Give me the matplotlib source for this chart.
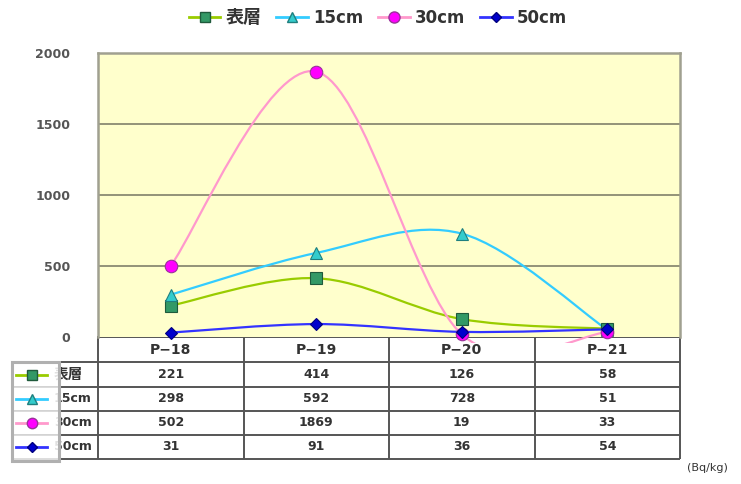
import numpy as np
import matplotlib
matplotlib.use('Agg')
import matplotlib.pyplot as plt
from matplotlib.path import Path
from matplotlib.patches import PathPatch, Rectangle
from matplotlib.lines import Line2D
from matplotlib.transforms import blended_transform_factory

plt.rcParams['font.family'] = ['DejaVu Sans', 'Noto Sans CJK JP']

# ---------------- data ----------------
categories = ['P−18', 'P−19', 'P−20', 'P−21']
series_names = ['表層', '15cm', '30cm', '50cm']
surface = [221, 414, 126, 58]
cm15 = [298, 592, 728, 51]
cm30 = [502, 1869, 19, 33]
cm50 = [31, 91, 36, 54]
y_ticks = [0, 500, 1000, 1500, 2000]
unit_label = '(Bq/kg)'

series = [surface, cm15, cm30, cm50]

styles = [
    dict(line='#99CC00', marker='s', mfc='#339966', mec='#1f5a3c', ms=8),
    dict(line='#33CCFF', marker='^', mfc='#33CCCC', mec='#1f7f7f', ms=8.5),
    dict(line='#FF99CC', marker='o', mfc='#FF00FF', mec='#993399', ms=9),
    dict(line='#3333FF', marker='D', mfc='#0000CC', mec='#000080', ms=6.5),
]


def smooth_path(x, y):
    pts = np.column_stack([x, y]).astype(float)
    n = len(pts)
    verts = [pts[0]]
    codes = [Path.MOVETO]
    for i in range(n - 1):
        p0 = pts[i - 1] if i > 0 else pts[i]
        p1 = pts[i]
        p2 = pts[i + 1]
        p3 = pts[i + 2] if i + 2 < n else pts[i + 1]
        c1 = p1 + (p2 - p0) / 6.0
        c2 = p2 - (p3 - p1) / 6.0
        verts += [c1, c2, p2]
        codes += [Path.CURVE4] * 3
    return Path(verts, codes)


def is_cjk(s):
    return any(ord(ch) > 0x2E80 for ch in s)


W, H = 741, 484
fig = plt.figure(figsize=(W / 100, H / 100), dpi=100)
fig.patch.set_facecolor('white')

# overlay axes in pixel coordinates (for table)
tab = fig.add_axes([0, 0, 1, 1], zorder=1)
tab.set_xlim(0, W)
tab.set_ylim(H, 0)
tab.axis('off')

ax_l, ax_r, ax_t, ax_b = 98, 680, 53, 337
ax = fig.add_axes([ax_l / W, (H - ax_b) / H, (ax_r - ax_l) / W, (ax_b - ax_t) / H], zorder=2)
ax.set_facecolor('#FFFFCC')
x = np.arange(len(categories))
ax.set_xlim(-0.5, len(categories) - 0.5)
ax.set_ylim(y_ticks[0], y_ticks[-1])
ax.set_yticks(y_ticks)
ax.set_yticklabels([str(v) for v in y_ticks], fontsize=9, color='#555555', fontweight='bold')
ax.tick_params(axis='y', length=0, pad=20)
ax.set_xticks([])
for yv in y_ticks[1:-1]:
    ax.axhline(yv, color='#8a8a72', lw=1.3, zorder=1)
for s in ['left', 'top', 'right']:
    ax.spines[s].set_color('#a0a090')
    ax.spines[s].set_linewidth(1.8)
ax.spines['bottom'].set_visible(False)

clip_rect = Rectangle((0, -0.022), 1, 1.05, transform=ax.transAxes)
for vals, st in zip(series, styles):
    patch = PathPatch(smooth_path(x, vals), fill=False, edgecolor=st['line'],
                      lw=1.6, transform=ax.transData, zorder=3)
    ax.add_patch(patch)
    patch.set_clip_path(clip_rect)
for vals, st in zip(series, styles):
    ax.plot(x, vals, linestyle='none', marker=st['marker'], mfc=st['mfc'],
            mec=st['mec'], ms=st['ms'], mew=0.8, zorder=4, clip_on=False)

# legend
handles = [Line2D([], [], color=st['line'], lw=2, marker=st['marker'], mfc=st['mfc'],
                  mec=st['mec'], ms=st['ms'] - 1) for st in styles]
leg = fig.legend(handles, series_names, loc='center', bbox_to_anchor=(378 / W, 1 - 18 / H),
                 ncol=4, frameon=False, handlelength=1.9, handletextpad=0.3, columnspacing=0.9,
                 prop=dict(size=12, weight='bold'), labelcolor='#333333')
for t in leg.get_texts():
    if is_cjk(t.get_text()):
        t.set_fontsize(13)

# ---------------- table ----------------
bt = blended_transform_factory(ax.transData, tab.transData)
row_lines = [337, 362, 387, 411, 435, 459]
tcol = '#555555'
# vertical lines
for xb in np.arange(len(categories) + 1) - 0.5:
    tab.plot([xb, xb], [row_lines[0], row_lines[-1]], color=tcol, lw=1.4,
             transform=bt, solid_capstyle='butt')
# horizontal lines
for yl in row_lines[1:]:
    tab.plot([60, ax_r], [yl, yl], color=tcol, lw=1.4, solid_capstyle='butt')
tab.plot([ax_l, ax_r], [row_lines[0], row_lines[0]], color=tcol, lw=1.4)

# header
yh = (row_lines[0] + row_lines[1]) / 2
for i, c in enumerate(categories):
    tab.text(i, yh, c, transform=bt, ha='center', va='center', fontsize=10,
             fontweight='bold', color='#333333')

# rows
for r, (name, vals, st) in enumerate(zip(series_names, series, styles)):
    yc = (row_lines[r + 1] + row_lines[r + 2]) / 2
    tab.text(54, yc, name, ha='left', va='center', fontsize=10.5 if is_cjk(name) else 9,
             fontweight='bold', color='#333333', zorder=2)
    for i, v in enumerate(vals):
        tab.text(i, yc, str(v), transform=bt, ha='center', va='center', fontsize=9,
                 fontweight='bold', color='#333333')
    # key cell
    tab.add_patch(Rectangle((12, row_lines[r + 1]), 47, row_lines[r + 2] - row_lines[r + 1],
                            facecolor='white', edgecolor='#d0d0d0', lw=1.2, zorder=3,
                            alpha=0.85))
    tab.plot([16, 47], [yc, yc], color=st['line'], lw=2, zorder=4)
    tab.plot([31.5], [yc], linestyle='none', marker=st['marker'], mfc=st['mfc'],
             mec=st['mec'], ms=st['ms'] - 1.5, zorder=5)
# outer key frame
tab.add_patch(Rectangle((12, row_lines[1]), 47, row_lines[-1] - row_lines[1] + 2,
                        facecolor='none', edgecolor='#b0b0b0', lw=2.2, zorder=6))

tab.text(728, 468, unit_label, ha='right', va='center', fontsize=8, color='#333333')

fig.savefig('out.png', dpi=100)
